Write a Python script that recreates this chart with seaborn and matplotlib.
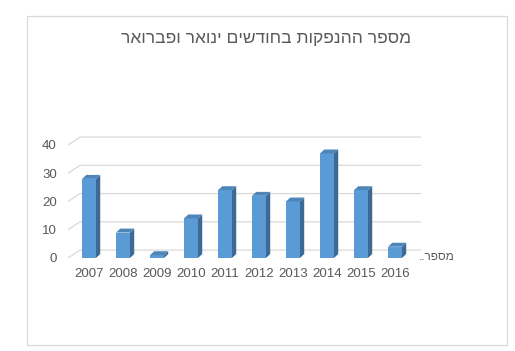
import matplotlib
matplotlib.use("Agg")
import matplotlib.pyplot as plt
from matplotlib.patches import Rectangle, Polygon
import seaborn as sns
import pandas as pd

years = ["2007", "2008", "2009", "2010", "2011", "2012", "2013", "2014", "2015", "2016"]
values = [28, 9, 1, 14, 24, 22, 20, 37, 24, 4]
y_ticks = [0, 10, 20, 30, 40]
title = "מספר ההנפקות בחודשים ינואר ופברואר"
series_name = "מספר.."

sns.set_style("white")
plt.rcParams["font.family"] = ["Liberation Sans", "DejaVu Sans"]

W, H = 515, 351
fig = plt.figure(figsize=(W / 100, H / 100), dpi=100)
fig.patch.set_facecolor("white")

# chart border
fig.add_artist(Rectangle((27 / W, 1 - 345 / H), (507 - 27) / W, (345 - 16) / H,
                         transform=fig.transFigure, fill=False,
                         edgecolor="#D9D9D9", lw=0.9))

ax = fig.add_axes([68 / W, 1 - 260 / H, (421 - 68) / W, 130 / H])
df = pd.DataFrame({"year": years, "value": values})
front = "#5B9BD5"
top_c = "#4E86BA"
side_c = "#3C6A94"
sns.barplot(data=df, x="year", y="value", order=years, color=front,
            width=0.41, linewidth=0, saturation=1, ax=ax, zorder=3)

x0, x1 = -0.618, 9.765
ax.set_xlim(x0, x1)
ax.set_ylim(-0.71, 45.3)

# perspective gridlines
gdx, gdy = 0.353, 2.8
for v in y_ticks:
    ax.plot([x0, x0 + gdx, x1], [v, v + gdy, v + gdy], color="#D9D9D9",
            lw=0.9, zorder=1, solid_capstyle="butt")

# 3D faces of the bars
ddx, ddy = 0.125, 1.4
for p in list(ax.patches):
    xl = p.get_x()
    w = p.get_width()
    h = p.get_height()
    xr = xl + w
    side = Polygon([(xr, 0), (xr + ddx, ddy), (xr + ddx, h + ddy), (xr, h)],
                   closed=True, facecolor=side_c, edgecolor="none", zorder=3)
    top = Polygon([(xl, h), (xl + ddx, h + ddy), (xr + ddx, h + ddy), (xr, h)],
                  closed=True, facecolor=top_c, edgecolor="none", zorder=3)
    ax.add_patch(side)
    ax.add_patch(top)

ax.set_yticks(y_ticks)
ax.set_xlabel("")
ax.set_ylabel("")
for s in ax.spines.values():
    s.set_visible(False)
ax.tick_params(axis="y", length=0, pad=8, labelsize=9.5, labelcolor="#595959")
ax.tick_params(axis="x", length=0, pad=6, labelsize=9.5, labelcolor="#595959")
ax.patch.set_alpha(0)

fig.text(266 / W, 1 - 38 / H, title[::-1], ha="center", va="center",
         fontsize=12.5, color="#595959")
fig.text(419 / W, 1 - 257 / H, series_name[::-1], ha="left", va="center",
         fontsize=8.5, color="#595959")

fig.savefig("out.png", dpi=100)
